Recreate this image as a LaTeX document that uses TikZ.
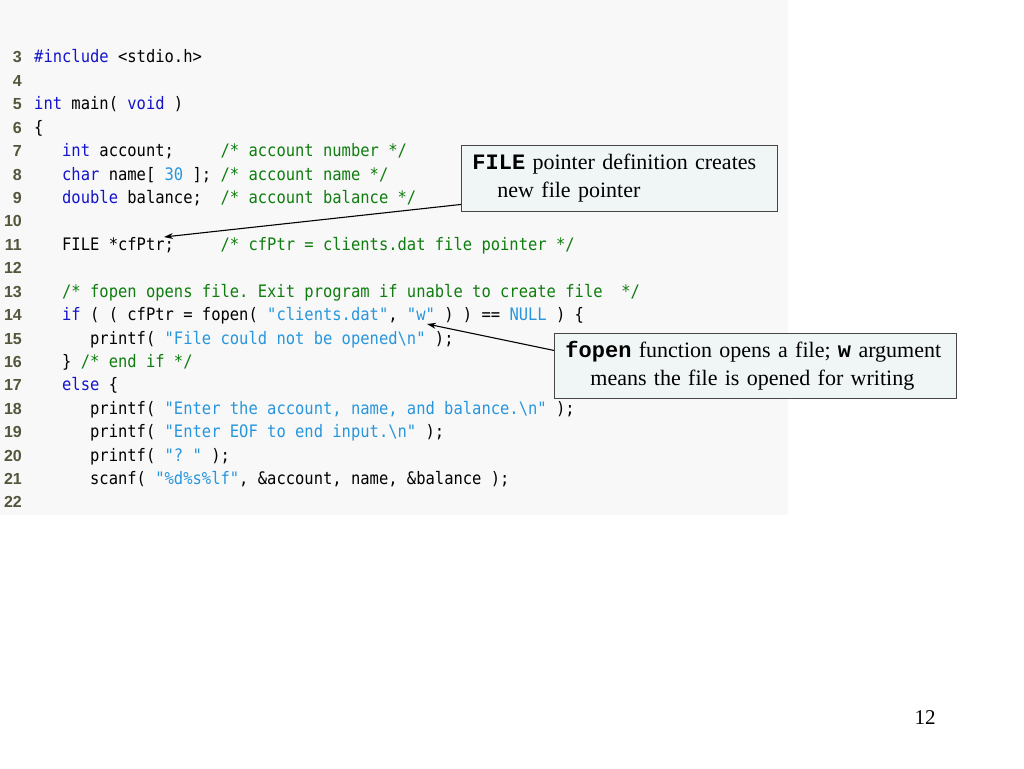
\documentclass[tikz,border=0pt]{standalone}
\usepackage{fontspec}
\setmainfont{Liberation Serif}
\newfontfamily\codefont[FakeStretch=0.9]{DejaVu Sans Mono}
\newfontfamily\numfont{Liberation Sans}
\newfontfamily\notemono{Liberation Mono}
\usetikzlibrary{arrows.meta}
\definecolor{codebg}{RGB}{248,248,248}
\definecolor{notebg}{RGB}{240,246,246}
\definecolor{noteline}{RGB}{70,70,70}
\definecolor{kwblue}{RGB}{20,20,205}
\definecolor{strblue}{RGB}{40,150,220}
\definecolor{cmtgreen}{RGB}{15,125,15}
\definecolor{numgray}{RGB}{85,85,60}
\newcommand\ckw[1]{\textcolor{kwblue}{#1}}
\newcommand\cstr[1]{\textcolor{strblue}{#1}}
\newcommand\ccmt[1]{\textcolor{cmtgreen}{#1}}
\begin{document}
\begin{tikzpicture}[x=1pt,y=1pt,
  codeline/.style={anchor=base west,inner sep=0pt,
    font=\codefont\fontsize{17.2}{20}\selectfont\frenchspacing},
  lineno/.style={anchor=base east,inner sep=0pt,text=numgray,
    font=\numfont\bfseries\fontsize{16}{18}\selectfont},
  note/.style={draw=noteline,fill=notebg,line width=0.9pt,anchor=north west,
    align=left,inner xsep=11pt,inner ysep=0pt,
    font=\fontsize{22}{28}\selectfont},
  connector/.style={-{Stealth[length=9pt,width=6pt]},line width=1.1pt}]
\useasboundingbox (0,0) rectangle (1024,-768);
\fill [codebg] (0,0) rectangle (788,-515);
% code listing
\begin{scope}[y={(0pt,-23.42pt)},yshift=7.26pt]
\foreach \n in {3,...,22}
  \node [lineno] (n\n) at (22,\n) {\n};
\node [codeline] (c3) at (34,3) {\ckw{\#include} <stdio.h>};
\node [codeline] (c5) at (34,5) {\ckw{int} main( \ckw{void} )};
\node [codeline] (c6) at (34,6) {\{};
\node [codeline] (c7) at (34,7) {\ \ \ \ckw{int} account;\ \ \ \ \ \ccmt{/* account number */}};
\node [codeline] (c8) at (34,8) {\ \ \ \ckw{char} name[ \cstr{30} ]; \ccmt{/* account name */}};
\node [codeline] (c9) at (34,9) {\ \ \ \ckw{double} balance;\ \ \ccmt{/* account balance */}};
\node [codeline] (c11) at (34,11) {\ \ \ FILE *cfPtr;\ \ \ \ \ \ccmt{/* cfPtr = clients.dat file pointer */}};
\node [codeline] (c13) at (34,13) {\ \ \ \ccmt{/* fopen opens file. Exit program if unable to create file\ \ */}};
\node [codeline] (c14) at (34,14) {\ \ \ \ckw{if} ( ( cfPtr = fopen( \cstr{"clients.dat"}, \cstr{"w"} ) ) == \cstr{NULL} ) \{};
\node [codeline] (c15) at (34,15) {\ \ \ \ \ \ printf( \cstr{"File could not be opened\textbackslash n"} );};
\node [codeline] (c16) at (34,16) {\ \ \ \} \ccmt{/* end if */}};
\node [codeline] (c17) at (34,17) {\ \ \ \ckw{else} \{};
\node [codeline] (c18) at (34,18) {\ \ \ \ \ \ printf( \cstr{"Enter the account, name, and balance.\textbackslash n"} );};
\node [codeline] (c19) at (34,19) {\ \ \ \ \ \ printf( \cstr{"Enter EOF to end input.\textbackslash n"} );};
\node [codeline] (c20) at (34,20) {\ \ \ \ \ \ printf( \cstr{"? "} );};
\node [codeline] (c21) at (34,21) {\ \ \ \ \ \ scanf( \cstr{"\%d\%s\%lf"}, \&account, name, \&balance );};
\end{scope}
% callouts
\node [note,text width=294pt,minimum height=66pt] (filenote) at (461,-145)
  {\textbf{\notemono FILE} pointer definition creates\\
   \hspace*{25pt}new file pointer};
\node [note,text width=380pt,minimum height=65pt] (fopennote) at (554,-333)
  {\textbf{\notemono fopen} function opens a file; \textbf{\notemono w} argument\\
   \hspace*{25pt}means the file is opened for writing};
\coordinate (ptrtip) at (164,-237);
\coordinate (wtip) at (427,-324);
\draw [connector] ([yshift=-26pt]filenote.west) -- (ptrtip);
\draw [connector] ([yshift=15.5pt]fopennote.west) -- (wtip);
% page number
\node [font=\fontsize{21}{24}\selectfont] (pageno) at (925,-718) {12};
\end{tikzpicture}
\end{document}
